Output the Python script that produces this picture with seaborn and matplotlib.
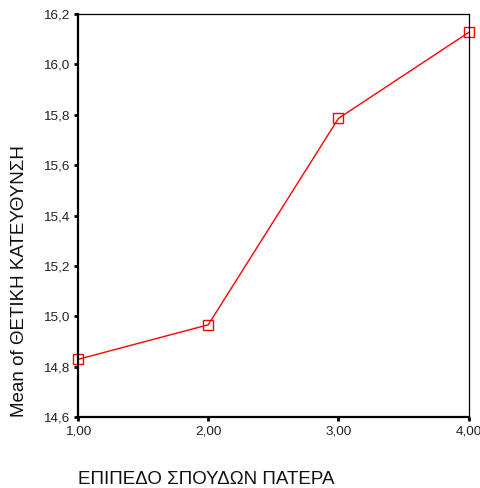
import matplotlib
matplotlib.use("Agg")
import matplotlib.pyplot as plt
import seaborn as sns
import pandas as pd
from matplotlib.ticker import FuncFormatter, FixedLocator

# data
father_edu = [1.0, 2.0, 3.0, 4.0]
mean_positive = [14.83, 14.967, 15.786, 16.127]
x_ticks = [1.0, 2.0, 3.0, 4.0]
y_ticks = [14.6, 14.8, 15.0, 15.2, 15.4, 15.6, 15.8, 16.0, 16.2]
x_label = "ΕΠΙΠΕΔΟ ΣΠΟΥΔΩΝ ΠΑΤΕΡΑ"
y_label = "Mean of ΘΕΤΙΚΗ ΚΑΤΕΥΘΥΝΣΗ"

sns.set_style("white")
plt.rcParams['font.family'] = ['Liberation Sans', 'DejaVu Sans']

df = pd.DataFrame({"x": father_edu, "y": mean_positive})

fig = plt.figure(figsize=(4.81, 4.88), dpi=100)
ax = fig.add_axes([78/481, 1-417.3/488, 390.7/481, 403.3/488])

sns.lineplot(data=df, x="x", y="y", ax=ax, color="red", linewidth=1.0,
             marker="s", markersize=6.5, markerfacecolor="none",
             markeredgecolor="red", markeredgewidth=1.0, clip_on=False)

ax.set_xlim(1, 4)
ax.set_ylim(14.6, 16.2)
ax.xaxis.set_major_locator(FixedLocator(x_ticks))
ax.yaxis.set_major_locator(FixedLocator(y_ticks))
ax.xaxis.set_major_formatter(FuncFormatter(lambda v, p: f"{v:.2f}".replace(".", ",")))
ax.yaxis.set_major_formatter(FuncFormatter(lambda v, p: f"{v:.1f}".replace(".", ",")))

for s in ["left", "bottom"]:
    ax.spines[s].set_linewidth(1.6)
    ax.spines[s].set_color("black")
for s in ["top", "right"]:
    ax.spines[s].set_linewidth(0.9)
    ax.spines[s].set_color("black")

ax.tick_params(axis="both", direction="out", length=3, width=2, color="black",
               labelsize=9.7, labelcolor="#222222", pad=3)
ax.tick_params(left=True, bottom=True)

ax.set_xlabel(x_label, loc="left", fontsize=13.5, color="#111111")
ax.set_ylabel(y_label, loc="bottom", fontsize=13.5, color="#111111")
ax.xaxis.set_label_coords(0.0, -0.134)
ax.yaxis.set_label_coords(-0.128, 0.0)

fig.savefig("out.png", dpi=100)
